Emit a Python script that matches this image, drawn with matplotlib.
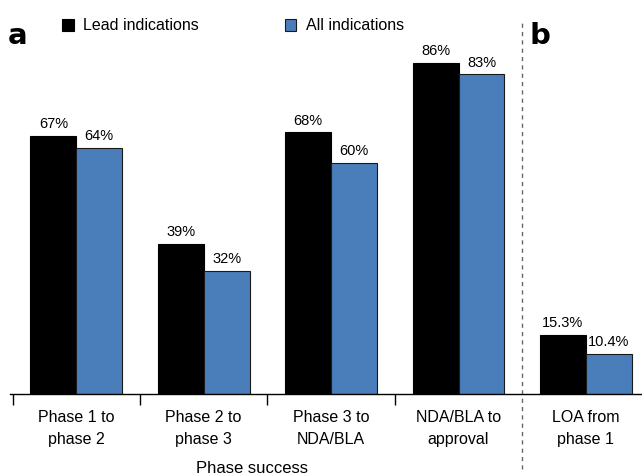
import matplotlib.pyplot as plt
import numpy as np

plt.rcParams['font.family'] = ['Liberation Sans', 'DejaVu Sans']

# data
categories = ["Phase 1 to\nphase 2", "Phase 2 to\nphase 3", "Phase 3 to\nNDA/BLA",
              "NDA/BLA to\napproval", "LOA from\nphase 1"]
lead = [67, 39, 68, 86, 15.3]
all_ind = [64, 32, 60, 83, 10.4]
lead_lbl = ["67%", "39%", "68%", "86%", "15.3%"]
all_lbl = ["64%", "32%", "60%", "83%", "10.4%"]

black = "#000000"
blue = "#4A7EBB"

fig = plt.figure(figsize=(6.42, 4.75), dpi=100)
ax = fig.add_axes([10/642, 81/475, 632/642, 385/475])

x = np.arange(len(categories))
w = 0.36
ax.bar(x - w/2, lead, w, color=black, edgecolor=black, linewidth=0.8, label="Lead indications")
ax.bar(x + w/2, all_ind, w, color=blue, edgecolor="#1a1a1a", linewidth=0.8, label="All indications")

for xi, v, t in zip(x - w/2, lead, lead_lbl):
    ax.text(xi, v + 1.2, t, ha="center", va="bottom", fontsize=10.5)
for xi, v, t in zip(x + w/2, all_ind, all_lbl):
    ax.text(xi, v + 1.2, t, ha="center", va="bottom", fontsize=10.5)

ax.set_xlim(-0.52, 4.44)
ax.set_ylim(0, 100)
for s in ["top", "left", "right"]:
    ax.spines[s].set_visible(False)
ax.spines["bottom"].set_linewidth(1.0)
ax.set_yticks([])
ax.set_xticks([-0.5, 0.5, 1.5, 2.5])
ax.set_xticklabels([])
ax.tick_params(axis="x", direction="out", length=8, width=1.0)

for xi, c in zip(x, categories):
    ax.text(xi, -8.9, c, ha="center", va="center", fontsize=11.5, linespacing=1.55)

ax.text(1.38, -19.3, "Phase success", ha="center", va="center", fontsize=12)

# dashed separator
ax.plot([3.5, 3.5], [-19.5, 97], color="#666666", linestyle=(0, (3, 3)),
        linewidth=1.0, clip_on=False)

# panel letters
fig.text(18/642, 1 - 36/475, "a", fontsize=21, fontweight="bold", va="center", ha="center",
         family="DejaVu Sans")
fig.text(540/642, 1 - 36/475, "b", fontsize=21, fontweight="bold", va="center", ha="center",
         family="DejaVu Sans")

# legend
leg = fig.legend(loc="upper left", bbox_to_anchor=(48/642, 1 - 4/475), ncol=2,
                 frameon=False, fontsize=11.5, handlelength=0.7, handleheight=0.8,
                 columnspacing=5.4, handletextpad=0.6)

fig.savefig("out.png", dpi=100)
